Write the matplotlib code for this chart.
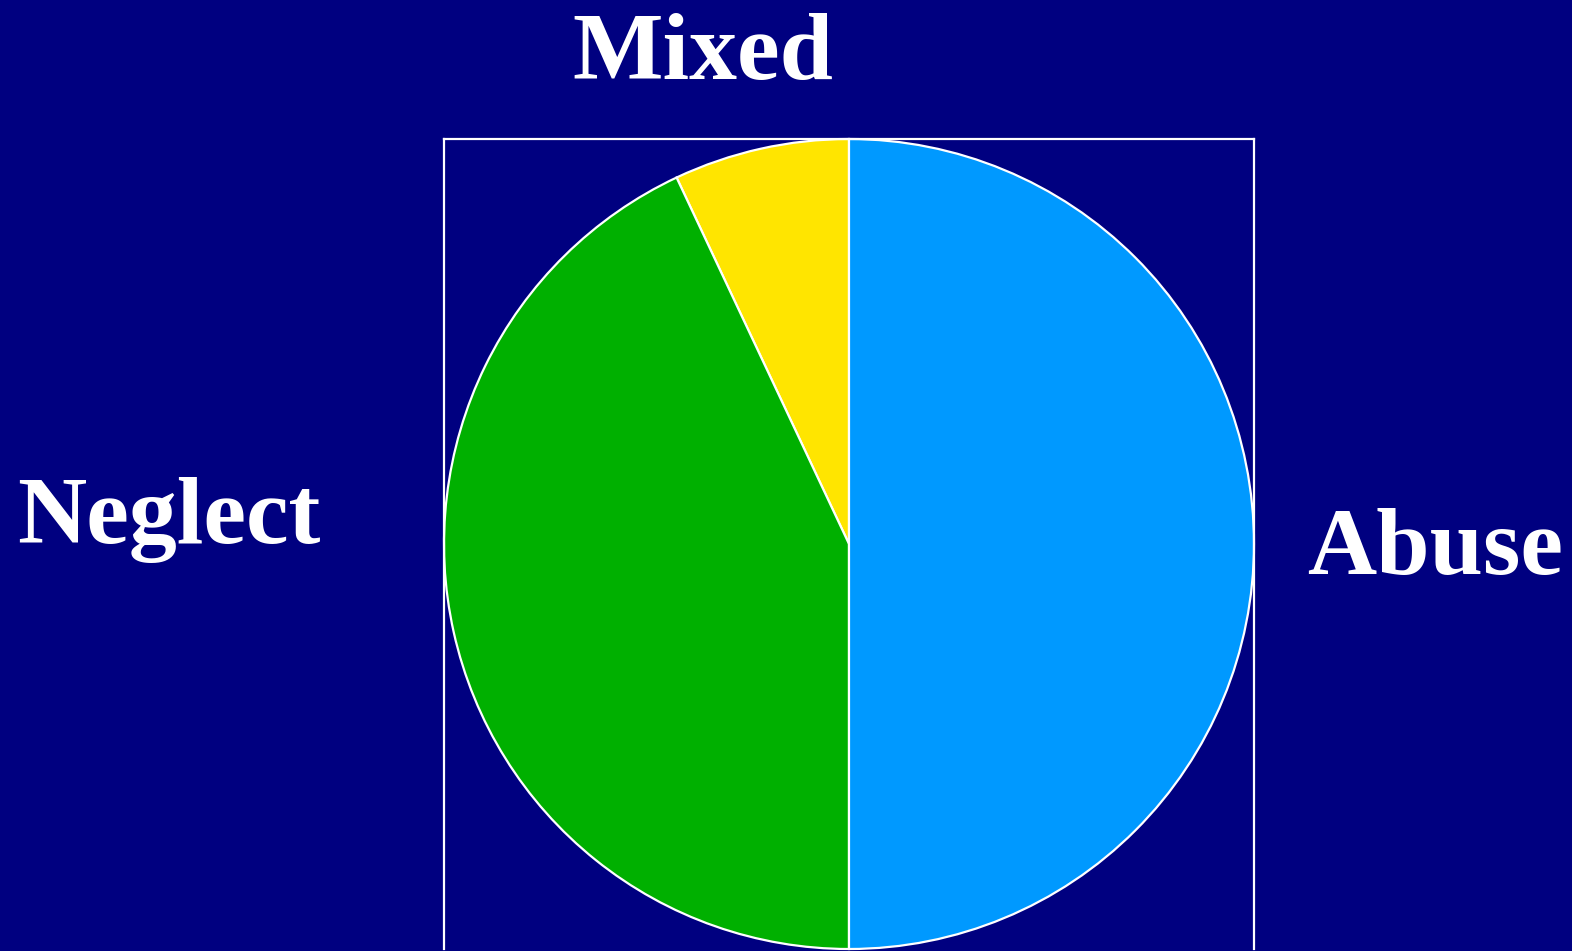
import matplotlib
matplotlib.use("Agg")
import matplotlib.pyplot as plt

# Share of cases by maltreatment type (percent)
categories = ["Mixed", "Neglect", "Abuse"]
shares = [7, 43, 50]
colors = ["#FFE500", "#00B000", "#0099FF"]

W, H = 1572, 951
fig = plt.figure(figsize=(W / 100, H / 100), dpi=100)
fig.patch.set_facecolor("#000080")

# Square plot area framed by a thin white border
left, top, size = 444, 139, 810
ax = fig.add_axes([left / W, 1 - (top + size) / H, size / W, size / H])
ax.set_facecolor("#000080")
ax.pie(shares, colors=colors, startangle=90, counterclock=True, radius=1.0,
       frame=True, wedgeprops=dict(edgecolor="white", linewidth=1.6))
ax.set_xlim(-1.0, 1.0)
ax.set_ylim(-1.0, 1.0)
ax.set_aspect("equal")
ax.set_xticks([])
ax.set_yticks([])
for side in ("left", "top", "right"):
    ax.spines[side].set_visible(True)
    ax.spines[side].set_color("white")
    ax.spines[side].set_linewidth(1.6)
ax.spines["bottom"].set_visible(False)

label_font = dict(family="Liberation Serif", weight="bold", color="white",
                  fontsize=69, va="baseline", ha="left")
label_pos = {"Mixed": (572, 79), "Neglect": (17, 543), "Abuse": (1307, 574)}
for name in categories:
    x, y = label_pos[name]
    fig.text(x / W, 1 - y / H, name, **label_font)

fig.savefig("out.png", dpi=100, facecolor=fig.get_facecolor())
